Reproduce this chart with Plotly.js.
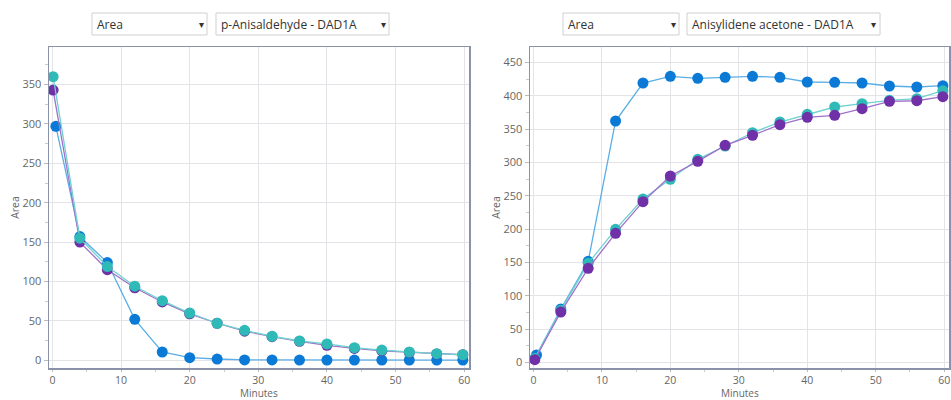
<!DOCTYPE html>
<html>
<head>
<meta charset="utf-8">
<script src="https://cdn.plot.ly/plotly-3.0.1.min.js"></script>
<style>html,body{margin:0;padding:0;background:#fff;}#chart{width:951px;height:400px;}</style>
</head>
<body>
<div id="chart"></div>
<script>
// Left chart: p-Anisaldehyde - DAD1A
const leftTimesBlue = [0.5, 4, 8, 12, 16, 20, 24, 28, 32, 36, 40, 44, 48, 52, 56, 59.8];
const leftTimes = [0.1, 4, 8, 12, 16, 20, 24, 28, 32, 36, 40, 44, 48, 52, 56, 59.8];
const leftBlue = [297, 157, 124, 52, 10.5, 3.3, 1.6, 0.5, 0.4, 0.3, 0.3, 0.3, 0.3, 0.3, 0.3, 0.3];
const leftTeal = [360, 155, 119, 94, 75.6, 60, 47, 38, 30.5, 24.5, 20.7, 16, 13, 10.5, 8.4, 7];
const leftPurple = [343, 150, 115, 92, 74, 59, 47, 37, 30, 24, 19, 15, 12, 10, 8, 7];
// Right chart: Anisylidene acetone - DAD1A
const rightTimesBlue = [0.45, 4, 8, 12, 16, 20, 24, 28, 32, 36, 40, 44, 48, 52, 56, 59.8];
const rightTimes = [0.2, 4, 8, 12, 16, 20, 24, 28, 32, 36, 40, 44, 48, 52, 56, 59.8];
const rightBlue = [11, 80, 151.5, 362, 419, 429, 426, 427.5, 429, 427.5, 420.5, 420, 419, 414.5, 413, 415];
const rightTeal = [6, 78, 148.5, 199.5, 245, 274.5, 304.5, 324.5, 344.4, 360.5, 372, 383, 388, 393, 395.4, 407.4];
const rightPurple = [4, 75.5, 141, 193.5, 241, 279.5, 301.5, 325.5, 340.5, 356.4, 367.5, 370.5, 380.4, 391.5, 392.4, 398.4];
const dropdownLabels = ["Area", "p-Anisaldehyde - DAD1A", "Area", "Anisylidene acetone - DAD1A"];
const axisTitleX = "Minutes";
const axisTitleY = "Area";

const cBlue = "#0a7ad6", lBlue = "#5aaee6";
const cTeal = "#2fbab8", lTeal = "#6fd3cf";
const cPurple = "#7030a8", lPurple = "#a070cc";

function tr(x, y, xa, ya, mc, lc) {
  return {x: x, y: y, xaxis: xa, yaxis: ya, type: "scatter", mode: "lines+markers",
    line: {color: lc, width: 1.3}, marker: {color: mc, size: 11}, hoverinfo: "x+y", showlegend: false};
}

const data = [
  tr(leftTimesBlue, leftBlue, "x", "y", cBlue, lBlue),
  tr(leftTimes, leftPurple, "x", "y", cPurple, lPurple),
  tr(leftTimes, leftTeal, "x", "y", cTeal, lTeal),
  tr(rightTimesBlue, rightBlue, "x2", "y2", cBlue, lBlue),
  tr(rightTimes, rightTeal, "x2", "y2", cTeal, lTeal),
  tr(rightTimes, rightPurple, "x2", "y2", cPurple, lPurple)
];

const frame = "#8a92aa";
const tickFont = {family: "Open Sans, sans-serif", size: 11, color: "#666"};
const xTickFont = {family: "Open Sans, sans-serif", size: 10.5, color: "#666"};
const titleFont = {family: "Open Sans, sans-serif", size: 10.5, color: "#666"};
function xax(dom) {
  return {domain: dom, range: [-0.5, 60.7], dtick: 10, tick0: 0, showgrid: true, gridcolor: "#e3e3e8",
    zeroline: false, showline: true, linecolor: frame, linewidth: 1.5, mirror: true,
    ticks: "outside", ticklen: 2, tickcolor: "#bbb", tickfont: xTickFont,
    minor: {dtick: 5, ticks: "outside", ticklen: 2, tickcolor: "#ccc", showgrid: false}};
}
function yax(dom, range, anchor) {
  return {domain: dom, range: range, dtick: 50, tick0: 0, showgrid: true, gridcolor: "#e3e3e8",
    zeroline: false, showline: true, linecolor: frame, linewidth: 1.5, mirror: true, anchor: anchor,
    ticks: "outside", ticklen: 4, tickcolor: "#bbb", tickfont: tickFont,
    minor: {dtick: 25, ticks: "outside", ticklen: 3, tickcolor: "#ccc", showgrid: false},
    title: {text: axisTitleY, font: titleFont, standoff: 0}};
}

function box(x0, x1) {
  return {type: "rect", xref: "paper", yref: "paper", x0: x0 / 951, x1: x1 / 951,
    y0: 1 - 35 / 400, y1: 1 - 13 / 400, line: {color: "#d0d0d0", width: 1}, fillcolor: "#fff"};
}
function label(x, text) {
  return {xref: "paper", yref: "paper", x: x / 951, y: 1 - 24 / 400, xanchor: "left", yanchor: "middle",
    text: text, showarrow: false, font: {family: "Open Sans, sans-serif", size: 12, color: "#333"}};
}
function arrow(x) {
  return {xref: "paper", yref: "paper", x: x / 951, y: 1 - 24 / 400, xanchor: "center", yanchor: "middle",
    text: "▾", showarrow: false, font: {family: "DejaVu Sans, sans-serif", size: 10, color: "#333"}};
}
function xTitle(xa) {
  return {xref: xa + " domain", yref: "paper", x: 0.5, y: 0, xanchor: "center", yanchor: "bottom", yshift: -1,
    text: axisTitleX, showarrow: false, font: {family: "Open Sans, sans-serif", size: 10, color: "#666"}, borderpad: 0};
}

const layout = {
  width: 951, height: 400, margin: {l: 0, r: 0, t: 0, b: 0},
  paper_bgcolor: "#fff", plot_bgcolor: "#fff",
  xaxis: xax([49 / 951, 469 / 951]),
  yaxis: yax([1 - 368 / 400, 1 - 47 / 400], [-9.8, 397.6], "x"),
  xaxis2: Object.assign(xax([530 / 951, 949 / 951]), {anchor: "y2"}),
  yaxis2: yax([1 - 368 / 400, 1 - 47 / 400], [-8.5, 473], "x2"),
  shapes: [box(92, 207), box(216, 389), box(563, 679), box(687, 880)],
  annotations: [
    label(95, dropdownLabels[0]), arrow(201),
    label(219, dropdownLabels[1]), arrow(383),
    label(566, dropdownLabels[2]), arrow(673),
    label(690, dropdownLabels[3]), arrow(873),
    xTitle("x"), xTitle("x2")
  ]
};
layout.xaxis.anchor = "y";

Plotly.newPlot("chart", data, layout, {displayModeBar: false, staticPlot: true});
</script>
</body>
</html>
